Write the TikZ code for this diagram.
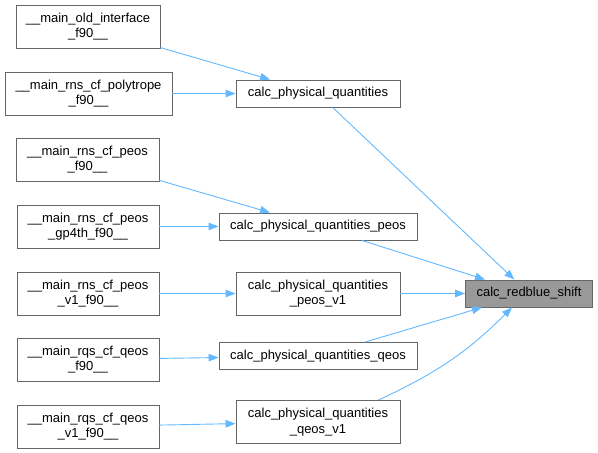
\documentclass[tikz,border=0pt]{standalone}
\usepackage{fontspec}
\setmainfont{Liberation Sans}
\usetikzlibrary{arrows.meta}
\definecolor{edgeblue}{HTML}{63B8FF}
\definecolor{boxline}{HTML}{666666}
\definecolor{hilite}{HTML}{999999}
\begin{document}
\begin{tikzpicture}[x=1pt, y=-1pt,
  fn/.style={draw=boxline, fill=white, line width=0.9pt, inner sep=2pt, align=center,
    font=\fontsize{13}{15.7}\selectfont, minimum height=27},
  fntwo/.style={fn, minimum height=43},
  call/.style={draw=edgeblue, line width=0.9pt, -{Triangle[length=10pt,width=7.5pt]}}]
  \useasboundingbox (0,0) rectangle (598,453);

  % Left column: callers
  \node[fntwo, minimum width=144] (old) at (88,26.5) {\_\_main\_old\_interface\\\_f90\_\_};
  \node[fntwo, minimum width=167] (polytrope) at (88.5,93.5) {\_\_main\_rns\_cf\_polytrope\\\_f90\_\_};
  \node[fntwo, minimum width=143] (peos) at (87.5,159.5) {\_\_main\_rns\_cf\_peos\\\_f90\_\_};
  \node[fntwo, minimum width=142] (peosgp) at (88,226.5) {\_\_main\_rns\_cf\_peos\\\_gp4th\_f90\_\_};
  \node[fntwo, minimum width=142] (peosvone) at (88,293.5) {\_\_main\_rns\_cf\_peos\\\_v1\_f90\_\_};
  \node[fntwo, minimum width=142] (qeos) at (88,359.5) {\_\_main\_rqs\_cf\_qeos\\\_f90\_\_};
  \node[fntwo, minimum width=142] (qeosvone) at (88,426.5) {\_\_main\_rqs\_cf\_qeos\\\_v1\_f90\_\_};

  % Middle column
  \node[fn, minimum width=164] (cpq) at (318,93.5) {calc\_physical\_quantities};
  \node[fn, minimum width=198] (cpqpeos) at (318,226.5) {calc\_physical\_quantities\_peos};
  \node[fntwo, minimum width=164] (cpqpeosvone) at (318,293.5) {calc\_physical\_quantities\\\_peos\_v1};
  \node[fn, minimum width=198] (cpqqeos) at (318,356) {calc\_physical\_quantities\_qeos};
  \node[fntwo, minimum width=164] (cpqqeosvone) at (318,422) {calc\_physical\_quantities\\\_qeos\_v1};

  % Callee
  \node[fn, fill=hilite, minimum width=127] (redblue) at (529,293.5) {calc\_redblue\_shift};

  \draw[call] (old) -- (cpq);
  \draw[call] (polytrope) -- (cpq);
  \draw[call] (peos) -- (cpqpeos);
  \draw[call] (peosgp) -- (cpqpeos);
  \draw[call] (peosvone) -- (cpqpeosvone);
  \draw[call] (qeos) -- (cpqqeos);
  \draw[call] (qeosvone) -- (cpqqeosvone);

  \draw[call] (cpq) -- (redblue);
  \draw[call] (cpqpeos) -- (redblue);
  \draw[call] (cpqpeosvone) -- (redblue);
  \draw[call] (cpqqeos) -- (redblue);
  \draw[call] ([xshift=-22pt]cpqqeosvone.north east) to[out=25, in=225] ([xshift=-17pt]redblue.south);
\end{tikzpicture}
\end{document}
